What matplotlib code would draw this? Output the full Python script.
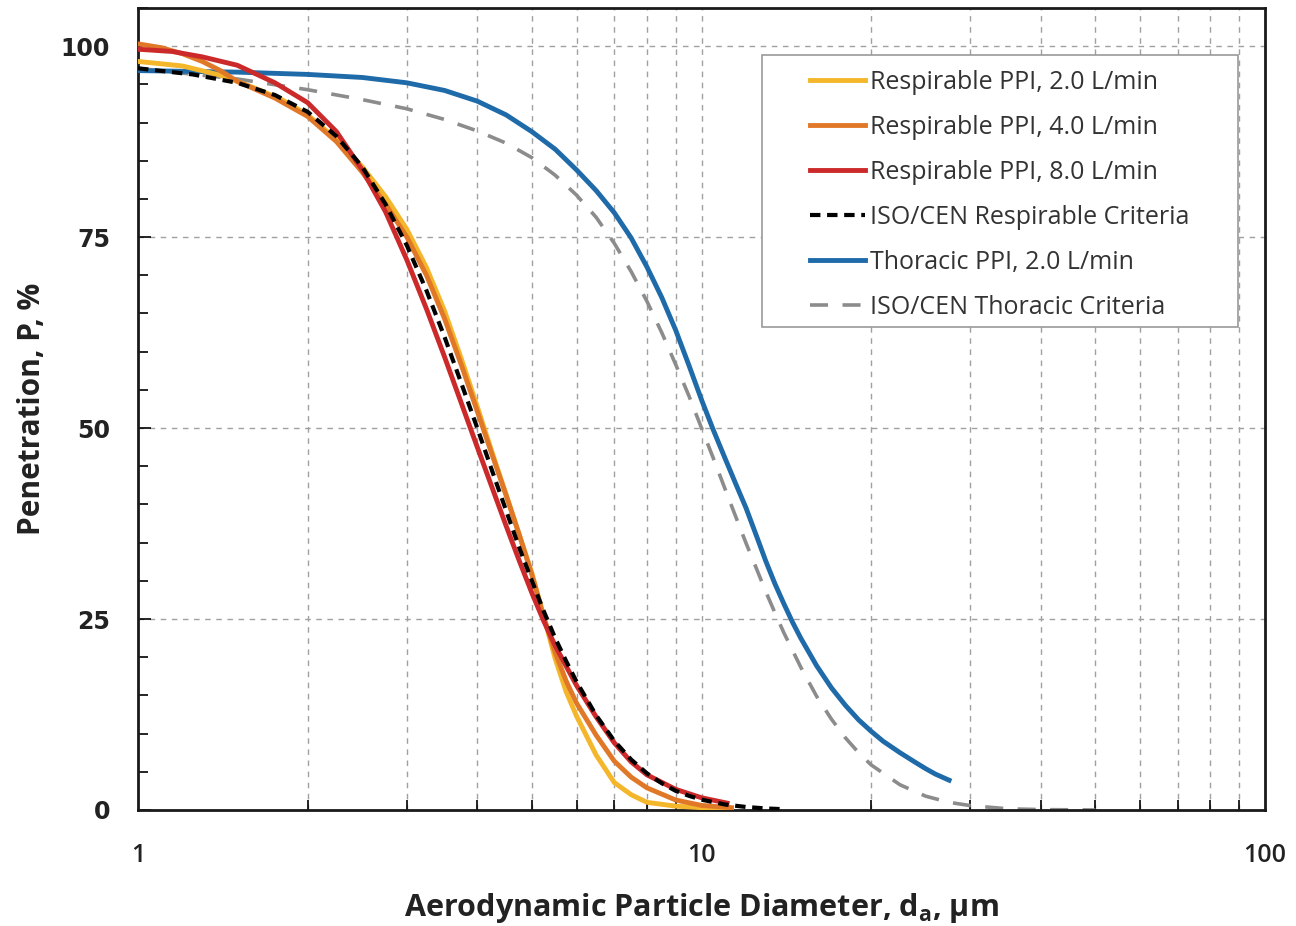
import matplotlib
matplotlib.use("Agg")
import matplotlib.pyplot as plt
from matplotlib.patches import Rectangle
from matplotlib.ticker import FixedLocator, NullFormatter, MultipleLocator

# =====================================================
# Data
# =====================================================

d_yellow = [1.0, 1.2, 1.4, 1.6, 1.8, 2.0, 2.25, 2.5, 2.75, 3.0, 3.25, 3.5, 3.75,
            4.0, 4.25, 4.5, 4.75, 5.0, 5.25, 5.5, 5.75, 6.0, 6.5, 7.0, 7.5, 8.0,
            9.0, 10.0, 11.3]
p_yellow = [98.0, 97.4, 96.2, 94.6, 93.0, 91.0, 87.8, 84.2, 80.3, 76.0, 71.0, 65.3, 59.0,
            52.8, 46.8, 41.3, 36.0, 31.0, 25.3, 19.8, 15.5, 12.3, 7.2, 3.6, 2.0, 1.0,
            0.5, 0.3, 0.2]

d_orange = [1.0, 1.1, 1.2, 1.3, 1.4, 1.5, 1.75, 2.0, 2.25, 2.5, 2.75, 3.0, 3.25, 3.5,
            3.75, 4.0, 4.25, 4.5, 4.75, 5.0, 5.25, 5.5, 5.75, 6.0, 6.5, 7.0, 7.5, 8.0,
            9.0, 10.0, 11.3]
p_orange = [100.3, 99.8, 99.0, 98.0, 96.8, 95.4, 93.2, 90.8, 87.5, 83.5, 79.3, 75.0, 70.0, 64.3,
            58.2, 52.2, 46.5, 41.2, 36.0, 30.8, 25.2, 20.6, 16.9, 14.0, 9.8, 6.4, 4.3, 2.9,
            1.3, 0.6, 0.3]

d_red = [1.0, 1.15, 1.3, 1.5, 1.75, 2.0, 2.25, 2.5, 2.75, 3.0, 3.25, 3.5, 3.75, 4.0,
         4.25, 4.5, 4.75, 5.0, 5.25, 5.5, 6.0, 6.5, 7.0, 7.5, 8.0, 9.0, 10.0, 11.1]
p_red = [99.6, 99.3, 98.6, 97.5, 95.2, 92.6, 88.8, 83.8, 78.3, 72.0, 65.6, 59.3, 53.2, 47.5,
         42.2, 37.2, 32.6, 28.4, 24.7, 21.5, 16.3, 12.2, 8.8, 6.3, 4.6, 2.7, 1.6, 0.9]

d_iso_resp = [1.0, 1.25, 1.5, 1.75, 2.0, 2.25, 2.5, 2.75, 3.0, 3.25, 3.5, 3.75, 4.0,
              4.25, 4.5, 4.75, 5.0, 5.25, 5.5, 5.75, 6.0, 6.5, 7.0, 7.5, 8.0, 8.5,
              9.0, 9.5, 10.0, 11.0, 12.0, 13.0, 14.0]
p_iso_resp = [97.1, 96.3, 95.2, 93.6, 91.4, 88.2, 84.2, 79.3, 73.9, 68.0, 61.9, 55.8, 50.0,
              44.4, 39.2, 34.3, 30.0, 26.0, 22.5, 19.5, 16.8, 12.4, 9.05, 6.6, 4.8, 3.5,
              2.5, 1.85, 1.35, 0.72, 0.39, 0.2, 0.1]

d_blue = [1.0, 1.5, 2.0, 2.5, 3.0, 3.5, 4.0, 4.5, 5.0, 5.5, 6.0, 6.5, 7.0, 7.5, 8.0,
          8.5, 9.0, 9.5, 10.0, 10.5, 11.0, 11.5, 12.0, 12.5, 13.0, 13.5, 14.0, 14.5,
          15.0, 16.0, 17.0, 18.0, 19.0, 20.0, 21.0, 22.5, 24.0, 25.0, 26.0, 27.5]
p_blue = [96.8, 96.6, 96.3, 95.9, 95.2, 94.2, 92.8, 91.0, 88.8, 86.5, 83.8, 81.1, 78.2, 74.9, 71.1,
          67.1, 62.8, 58.2, 53.7, 49.7, 46.1, 42.7, 39.5, 36.0, 32.6, 29.6, 27.0, 24.6,
          22.5, 18.9, 16.0, 13.7, 11.8, 10.3, 9.0, 7.5, 6.2, 5.4, 4.7, 3.9]

d_iso_thor = [1.0, 1.5, 2.0, 2.5, 3.0, 3.5, 4.0, 4.5, 5.0, 5.5, 6.0, 6.5, 7.0, 7.5, 8.0,
              8.5, 9.0, 9.5, 10.0, 10.5, 11.0, 11.5, 12.0, 12.5, 13.0, 13.5, 14.0, 15.0,
              16.0, 17.0, 18.0, 19.0, 20.0, 22.5, 25.0, 27.5, 30.0, 35.0, 40.0, 50.0]
p_iso_thor = [97.1, 95.7, 94.3, 93.0, 91.8, 90.4, 88.9, 87.3, 85.4, 83.1, 80.5, 77.6, 74.2, 70.5, 66.6,
              62.5, 58.3, 54.2, 50.0, 46.0, 42.1, 38.4, 34.9, 31.7, 28.6, 25.8, 23.2, 18.7,
              14.9, 11.9, 9.45, 7.5, 5.9, 3.3, 1.8, 1.0, 0.57, 0.15, 0.05, 0.0]

labels = [
    "Respirable PPI, 2.0 L/min",
    "Respirable PPI, 4.0 L/min",
    "Respirable PPI, 8.0 L/min",
    "ISO/CEN Respirable Criteria",
    "Thoracic PPI, 2.0 L/min",
    "ISO/CEN Thoracic Criteria",
]

y_ticks = [0, 25, 50, 75, 100]
x_ticks = [1, 10, 100]
x_minor = [2, 3, 4, 5, 6, 7, 8, 9, 20, 30, 40, 50, 60, 70, 80, 90]

# =====================================================
# Plot
# =====================================================

plt.rcParams["mathtext.fontset"] = "custom"
plt.rcParams["mathtext.rm"] = "Open Sans"
plt.rcParams["mathtext.bf"] = "Open Sans:bold"

fig = plt.figure(figsize=(12.96, 9.26), dpi=100)
ax = fig.add_axes([0.1065, 0.1253, 0.8696, 0.8661])

grid_kw = dict(color="#a0a0a0", linewidth=1.0, linestyle=(0, (4, 4)), zorder=0)
for x in x_minor + [10]:
    ax.axvline(x, **grid_kw)
for y in [25, 50, 75, 100]:
    ax.axhline(y, **grid_kw)

lw = 3.5
ax.plot(d_iso_thor, p_iso_thor, color="#8c8c8c", lw=2.6,
        linestyle=(0, (5, 4)), label=labels[5], zorder=2)
ax.plot(d_blue, p_blue, color="#1f6aa8", lw=lw, label=labels[4], zorder=3)
ax.plot(d_yellow, p_yellow, color="#f4b62a", lw=lw, label=labels[0], zorder=3)
ax.plot(d_orange, p_orange, color="#e07828", lw=lw, label=labels[1], zorder=3)
ax.plot(d_red, p_red, color="#cc2a2a", lw=lw, label=labels[2], zorder=3)
ax.plot(d_iso_resp, p_iso_resp, color="black", lw=3.0,
        linestyle=(0, (2.5, 1.6)), label=labels[3], zorder=4)

ax.set_xscale("log")
ax.set_xlim(1, 100)
ax.set_ylim(0, 105)

ax.xaxis.set_major_locator(FixedLocator(x_ticks))
ax.set_xticklabels([str(t) for t in x_ticks])
ax.xaxis.set_minor_locator(FixedLocator(x_minor))
ax.xaxis.set_minor_formatter(NullFormatter())
ax.yaxis.set_major_locator(FixedLocator(y_ticks))
ax.yaxis.set_minor_locator(MultipleLocator(5))

ax.tick_params(axis="x", which="major", length=0, pad=24)
ax.tick_params(axis="x", which="minor", direction="in", length=7, width=1.2)
ax.tick_params(axis="y", which="major", direction="in", length=9, width=1.2, pad=20)
ax.tick_params(axis="y", which="minor", direction="in", length=7, width=1.2)

for lab in ax.get_xticklabels():
    lab.set_fontfamily("Open Sans")
    lab.set_fontsize(18)
    lab.set_fontweight("semibold")
    lab.set_color("#222222")
for lab in ax.get_yticklabels():
    lab.set_fontfamily("DejaVu Sans")
    lab.set_fontsize(17)
    lab.set_fontweight("bold")
    lab.set_color("#222222")

for s in ax.spines.values():
    s.set_linewidth(2.0)
    s.set_color("#1a1a1a")

ax.set_xlabel("Aerodynamic Particle Diameter, d$_\\mathbf{a}$, µm",
              fontfamily="Open Sans", fontsize=22, fontweight="bold",
              color="#222222", labelpad=16)
ax.set_ylabel("Penetration, P, %", fontfamily="Open Sans", fontsize=21.5,
              fontweight="bold", color="#222222", labelpad=10)

# legend frame drawn by hand, legend entries placed inside it
ax.add_patch(Rectangle((0.5537, 0.6022), 0.4223, 0.3392, transform=ax.transAxes,
                       facecolor="white", edgecolor="#9a9a9a", linewidth=1.2,
                       zorder=5))

handles, labs = ax.get_legend_handles_labels()
order = [labs.index(l) for l in labels]
leg = ax.legend([handles[i] for i in order], [labs[i] for i in order],
                loc="upper left", bbox_to_anchor=(0.596, 0.923),
                borderaxespad=0, borderpad=0, frameon=False,
                prop={"family": "Open Sans", "size": 18},
                handlelength=2.2, handletextpad=0.2, labelspacing=0.8)
leg.set_zorder(6)
for t in leg.get_texts():
    t.set_color("#333333")

fig.savefig("out.png", dpi=100)
